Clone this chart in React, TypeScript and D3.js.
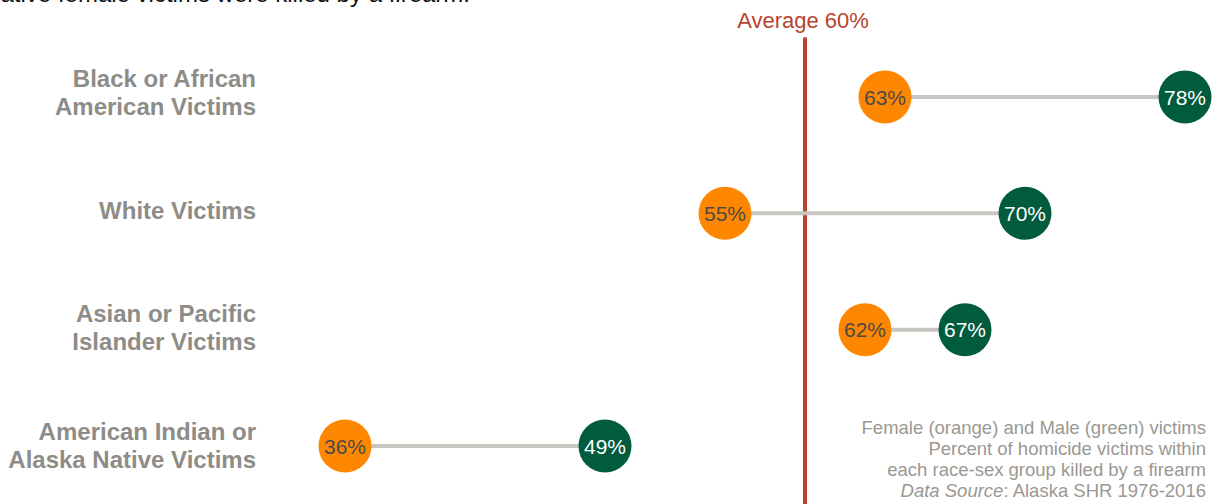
import React from "react";
import * as d3 from "d3";

const categories: string[][] = [
  ["Black or African", "American Victims"],
  ["White Victims"],
  ["Asian or Pacific", "Islander Victims"],
  ["American Indian or", "Alaska Native Victims"],
];
const femaleValues = [63, 55, 62, 36];
const maleValues = [78, 70, 67, 49];
const averageValue = 59;
const averageLabel = "Average 60%";
const noteLines = [
  "Female (orange) and Male (green) victims",
  "Percent of homicide victims within",
  "each race-sex group killed by a firearm",
];

const W = 1214;
const H = 504;

export default function App() {
  const x = d3.scaleLinear().domain([36, 78]).range([345, 1185]);
  const idx = categories.map((_, i) => i);
  const y = d3.scalePoint<number>().domain(idx).range([97, 446]);
  const yLabel = d3.scalePoint<number>().domain(idx).range([92.5, 445]);
  const font = "Liberation Sans, Arial, Helvetica, sans-serif";
  const orange = "#ff8700";
  const green = "#015b3d";
  const gray = "#c9c6c1";
  const labelColor = "#8e8c87";
  const r = 26.5;

  return (
    <svg
      width={W}
      height={H}
      style={{ position: "absolute", left: 0, top: 0, display: "block", fontFamily: font }}
    >
      <text x={470} y={2} textAnchor="end" fontSize={24} fill="#111">
        ative female victims were killed by a firearm.
      </text>

      <line
        x1={x(averageValue)}
        x2={x(averageValue)}
        y1={39}
        y2={H + 10}
        stroke="#b9432c"
        strokeWidth={4}
        strokeLinecap="round"
      />
      <text x={x(averageValue) - 2} y={28} textAnchor="middle" fontSize={22} fill="#b9432c">
        {averageLabel}
      </text>

      {categories.map((lines, i) => {
        const cy = y(i)!;
        const lh = 28;
        const y0 = yLabel(i)! - ((lines.length - 1) * lh) / 2 + 8.5;
        return (
          <g key={i}>
            <text textAnchor="end" fontSize={24} fontWeight="bold" fill={labelColor}>
              {lines.map((l, j) => (
                <tspan key={j} x={256} y={y0 + j * lh}>
                  {l}
                </tspan>
              ))}
            </text>
            <line
              x1={x(femaleValues[i])}
              x2={x(maleValues[i])}
              y1={cy}
              y2={cy}
              stroke={gray}
              strokeWidth={4}
            />
            <circle cx={x(femaleValues[i])} cy={cy} r={r} fill={orange} />
            <circle cx={x(maleValues[i])} cy={cy} r={r} fill={green} />
            <text
              x={x(femaleValues[i])}
              y={cy + 7.5}
              textAnchor="middle"
              fontSize={21}
              fill="#4a4a4a"
            >
              {femaleValues[i]}%
            </text>
            <text
              x={x(maleValues[i])}
              y={cy + 7.5}
              textAnchor="middle"
              fontSize={21}
              fill="#ffffff"
            >
              {maleValues[i]}%
            </text>
          </g>
        );
      })}

      <g fontSize={18.5} fill="#9a9893" textAnchor="end">
        {noteLines.map((l, j) => (
          <text key={j} x={1206} y={434 + j * 21}>
            {l}
          </text>
        ))}
        <text x={1206} y={497}>
          <tspan fontStyle="italic">Data Source</tspan>: Alaska SHR 1976-2016
        </text>
      </g>
    </svg>
  );
}
